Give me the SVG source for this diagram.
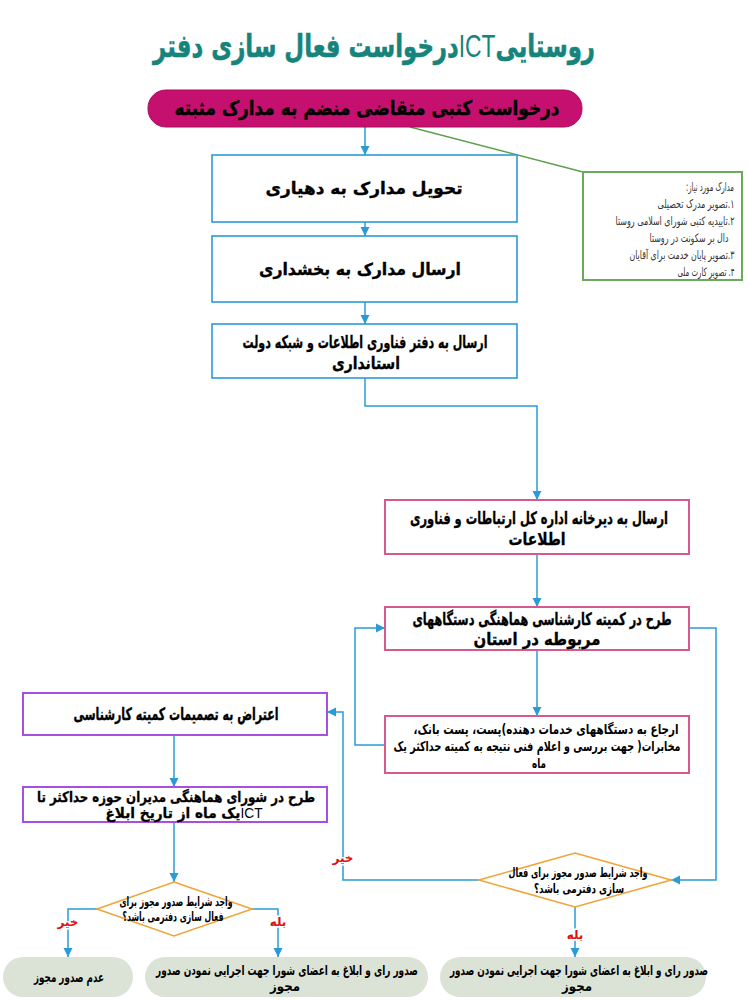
<svg xmlns="http://www.w3.org/2000/svg" width="749" height="1000" viewBox="0 0 749 1000">
<style>
text{font-family:"DejaVu Sans","Noto Sans",sans-serif;direction:rtl;text-anchor:middle;font-weight:bold;fill:#000}
.title{font-size:32px;fill:#16847c;stroke:#16847c;stroke-width:0.6px}
.lat{font-family:"Liberation Sans",sans-serif;font-weight:normal;stroke:none}
.big{font-size:20px;stroke:#000;stroke-width:0.4px}
.b{font-size:17px;stroke:#000;stroke-width:0.35px}
.m{font-size:14.5px;stroke:#000;stroke-width:0.3px}
.s{font-size:13.5px}
.d{font-size:12.5px}
.note{font-size:11.5px;font-weight:normal;fill:#333}
.lbl{font-size:12px;fill:#e01010;stroke:#fff;stroke-width:3px;paint-order:stroke}
.blue{fill:#fff;stroke:#2b9bd6;stroke-width:1.6}
.pink{fill:#fff;stroke:#d6598f;stroke-width:2}
.purp{fill:#fff;stroke:#a64fe0;stroke-width:2}
.dia{fill:#fff;stroke:#f0a53a;stroke-width:1.6}
.term{fill:#dbe3d7;stroke:none}
.con path{fill:none;stroke:#2b9bd6;stroke-width:1.5}
</style>
<defs>
<marker id="ar" markerUnits="userSpaceOnUse" markerWidth="10" markerHeight="10" refX="9" refY="5" orient="auto">
<path d="M0,0.5 L9,5 L0,9.5 z" fill="#2b9bd6"/>
</marker>
</defs>

<g id="title"><text class="title" x="374" y="57" textLength="442" lengthAdjust="spacingAndGlyphs">روستایی<tspan class="lat">ICT</tspan>درخواست فعال سازی دفتر</text></g>

<g class="con" id="connectors">
<path d="M365,127 V155" marker-end="url(#ar)"/>
<path d="M410,127 L583,172" style="stroke:#5e9e4e"/>
<path d="M365,222 V236" marker-end="url(#ar)"/>
<path d="M365,302 V324" marker-end="url(#ar)"/>
<path d="M365,378 V406 H537 V500" marker-end="url(#ar)"/>
<path d="M537,554 V607" marker-end="url(#ar)"/>
<path d="M537,650 V716" marker-end="url(#ar)"/>
<path d="M385,745 H355 V628 H385" marker-end="url(#ar)"/>
<path d="M689,628 H716 V880 H671" marker-end="url(#ar)"/>
<path d="M479,880 H343 V712 H327" marker-end="url(#ar)"/>
<path d="M575,907 V957" marker-end="url(#ar)"/>
<path d="M174,735 V787" marker-end="url(#ar)"/>
<path d="M174,822 V882" marker-end="url(#ar)"/>
<path d="M97,909 H68 V957" marker-end="url(#ar)"/>
<path d="M252,909 H278 V957" marker-end="url(#ar)"/>
<text class="lbl" x="343" y="862">خیر</text>
<text class="lbl" x="575" y="939">بله</text>
<text class="lbl" x="68" y="926">خیر</text>
<text class="lbl" x="278" y="926">بله</text>
</g>

<g id="start">
<rect x="148" y="90" width="434" height="37" rx="18" fill="#c6106f" stroke="#a80c5c" stroke-width="1"/>
<text class="big" x="367" y="115" textLength="385" lengthAdjust="spacingAndGlyphs">درخواست کتبی متقاضی منضم به مدارک مثبته</text>
</g>

<g id="notes">
<rect x="583" y="172" width="159" height="108" fill="#fff" stroke="#6aaa5c" stroke-width="2"/>
<text class="note" x="710" y="191" textLength="48" lengthAdjust="spacingAndGlyphs">مدارک مورد نیاز:</text>
<text class="note" x="696" y="208" textLength="77" lengthAdjust="spacingAndGlyphs">۱.تصویر مدرک تحصیلی</text>
<text class="note" x="675" y="225" textLength="119" lengthAdjust="spacingAndGlyphs">۲.تاییدیه کتبی شورای اسلامی روستا</text>
<text class="note" x="689" y="242" textLength="79" lengthAdjust="spacingAndGlyphs">دال بر سکونت در روستا</text>
<text class="note" x="682" y="259" textLength="105" lengthAdjust="spacingAndGlyphs">۳.تصویر پایان خدمت برای آقایان</text>
<text class="note" x="706" y="276" textLength="57" lengthAdjust="spacingAndGlyphs">۴. تصویر کارت ملی</text>
</g>

<g id="n1"><rect class="blue" x="212" y="155" width="305" height="67"/>
<text class="b" x="364" y="194" textLength="197" lengthAdjust="spacingAndGlyphs">تحویل مدارک به دهیاری</text></g>

<g id="n2"><rect class="blue" x="212" y="236" width="305" height="66"/>
<text class="b" x="360" y="275" textLength="202" lengthAdjust="spacingAndGlyphs">ارسال مدارک به بخشداری</text></g>

<g id="n3"><rect class="blue" x="212" y="324" width="305" height="54"/>
<text class="b" x="365" y="348" textLength="245" lengthAdjust="spacingAndGlyphs">ارسال به دفتر فناوری اطلاعات و شبکه دولت</text>
<text class="b" x="366" y="369" textLength="68" lengthAdjust="spacingAndGlyphs">استانداری</text></g>

<g id="n4"><rect class="pink" x="385" y="500" width="304" height="54"/>
<text class="b" x="539" y="524" textLength="258" lengthAdjust="spacingAndGlyphs">ارسال به دیرخانه اداره کل ارتباطات و فناوری</text>
<text class="b" x="537" y="545" textLength="57" lengthAdjust="spacingAndGlyphs">اطلاعات</text></g>

<g id="n5"><rect class="pink" x="385" y="607" width="304" height="43"/>
<text class="b" x="542" y="625" textLength="259" lengthAdjust="spacingAndGlyphs">طرح در کمیته کارشناسی هماهنگی دستگاههای</text>
<text class="b" x="537" y="645" textLength="127" lengthAdjust="spacingAndGlyphs">مربوطه در استان</text></g>

<g id="n6"><rect class="pink" x="385" y="716" width="304" height="57"/>
<text class="s" x="546" y="734" textLength="265" lengthAdjust="spacingAndGlyphs">ارجاع به دستگاههای خدمات دهنده)پست، پست بانک،</text>
<text class="s" x="537" y="751" textLength="287" lengthAdjust="spacingAndGlyphs">مخابرات( جهت بررسی و اعلام فنی نتیجه به کمیته حداکثر یک</text>
<text class="s" x="539" y="768" textLength="14" lengthAdjust="spacingAndGlyphs">ماه</text></g>

<g id="n7"><rect class="purp" x="23" y="693" width="304" height="42"/>
<text class="b" x="176" y="720" textLength="205" lengthAdjust="spacingAndGlyphs">اعتراض به تصمیمات کمیته کارشناسی</text></g>

<g id="n8"><rect class="purp" x="23" y="787" width="304" height="35"/>
<text class="m" x="176" y="802" textLength="278" lengthAdjust="spacingAndGlyphs">طرح در شورای هماهنگی مدیران حوزه حداکثر تا</text>
<text class="m" x="184" y="818" textLength="157" lengthAdjust="spacingAndGlyphs"><tspan class="lat">ICT</tspan>یک ماه از تاریخ ابلاغ</text></g>

<g id="d1"><path class="dia" d="M575,853 L671,880 L575,907 L479,880 z"/>
<text class="d" x="578" y="877" textLength="139" lengthAdjust="spacingAndGlyphs">واجد شرایط صدور مجوز برای فعال</text>
<text class="d" x="579" y="893" textLength="90" lengthAdjust="spacingAndGlyphs">سازی دفترمی باشد؟</text></g>

<g id="d2"><path class="dia" d="M174,882 L252,909 L174,936 L97,909 z"/>
<text class="d" x="176" y="906" textLength="113" lengthAdjust="spacingAndGlyphs">واجد شرایط صدور مجوز برای</text>
<text class="d" x="173" y="921" textLength="101" lengthAdjust="spacingAndGlyphs">فعال سازی دفترمی باشد؟</text></g>

<g id="t1"><rect class="term" x="3" y="957" width="130" height="40" rx="20"/>
<text class="s" x="69" y="982" textLength="70" lengthAdjust="spacingAndGlyphs">عدم صدور مجوز</text></g>

<g id="t2"><rect class="term" x="145" y="957" width="283" height="40" rx="20"/>
<text class="s" x="287" y="975" textLength="262" lengthAdjust="spacingAndGlyphs">صدور رای و ابلاغ به اعضای شورا جهت اجرایی نمودن  صدور</text>
<text class="s" x="285" y="991" textLength="30" lengthAdjust="spacingAndGlyphs">مجوز</text></g>

<g id="t3"><rect class="term" x="440" y="957" width="266" height="40" rx="20"/>
<text class="s" x="579" y="975" textLength="258" lengthAdjust="spacingAndGlyphs">صدور رای و ابلاغ به اعضای شورا جهت اجرایی نمودن  صدور</text>
<text class="s" x="577" y="991" textLength="30" lengthAdjust="spacingAndGlyphs">مجوز</text></g>
</svg>
